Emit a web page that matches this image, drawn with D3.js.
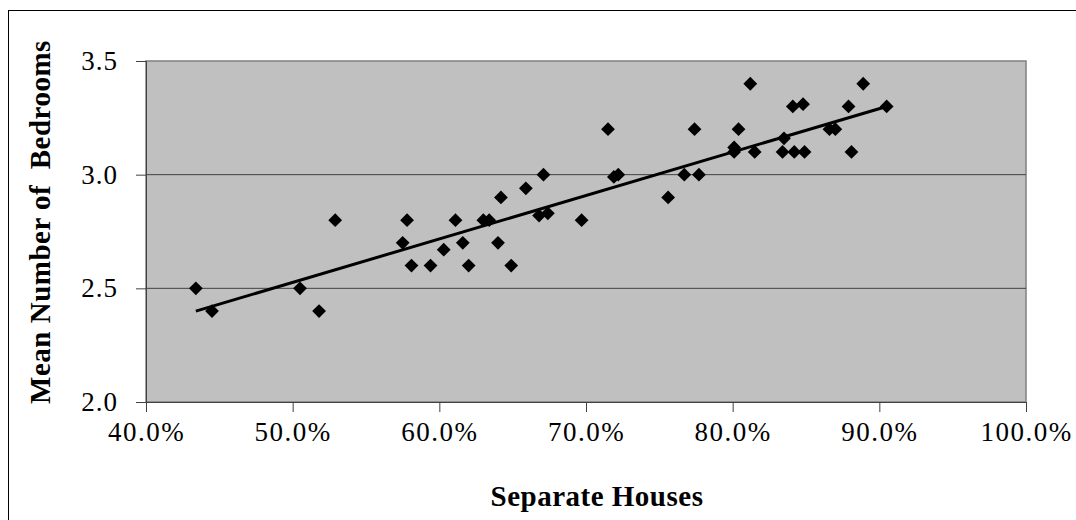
<!DOCTYPE html>
<html><head><meta charset="utf-8">
<script src="https://cdn.jsdelivr.net/npm/d3@7"></script>
<style>body{margin:0;background:#fff}svg{display:block}</style>
</head><body>
<script>
const xValues = [43.4,44.5,50.5,51.8,52.9,57.5,57.8,58.1,59.4,60.3,61.1,61.6,62.0,63.0,63.4,64.0,64.2,64.9,65.9,66.8,67.1,67.4,69.7,71.5,71.9,72.2,75.6,76.7,77.4,77.7,80.1,80.1,80.4,81.2,81.5,83.4,83.5,84.1,84.2,84.8,84.9,86.6,87.0,87.9,88.1,88.9,90.5];
const yValues = [2.5,2.4,2.5,2.4,2.8,2.7,2.8,2.6,2.6,2.67,2.8,2.7,2.6,2.8,2.8,2.7,2.9,2.6,2.94,2.82,3.0,2.83,2.8,3.2,2.99,3.0,2.9,3.0,3.2,3.0,3.12,3.1,3.2,3.4,3.1,3.1,3.16,3.3,3.1,3.31,3.1,3.2,3.2,3.3,3.1,3.4,3.3];
const trendX = [43.4, 90.5];
const trendY = [2.40, 3.30];
const xTicks = [40,50,60,70,80,90,100];
const yTicks = [2.0,2.5,3.0,3.5];
const xTitle = "Separate Houses";
const yTitle = "Mean Number of  Bedrooms";

const W = 1076, H = 520;
const svg = d3.select("body").append("svg").attr("width", W).attr("height", H);
const L = 146, R = 1026, T = 61, B = 402;
const x = d3.scaleLinear().domain([40,100]).range([L,R]);
const y = d3.scaleLinear().domain([2.0,3.5]).range([B,T]);

// outer border
svg.append("rect").attr("x",8.5).attr("y",10.5).attr("width",1200).attr("height",700)
  .attr("fill","none").attr("stroke","#000").attr("stroke-width",1);

// plot area
svg.append("rect").attr("x",L).attr("y",T).attr("width",R-L).attr("height",B-T)
  .attr("fill","#c0c0c0").attr("stroke","#808080").attr("stroke-width",1.5);

// gridlines
svg.append("g").selectAll("line").data(yTicks.filter(d=>d>2.0 && d<3.5)).join("line")
  .attr("x1",L).attr("x2",R).attr("y1",d=>y(d)).attr("y2",d=>y(d))
  .attr("stroke","#404040").attr("stroke-width",1);

const font = "'Liberation Serif', 'Times New Roman', serif";

// axes
const xAxis = d3.axisBottom(x).tickValues(xTicks).tickSize(10).tickPadding(10)
  .tickFormat(d => d.toFixed(1) + "%");
const gx = svg.append("g").attr("transform",`translate(0,${B})`).call(xAxis);
gx.select(".domain").attr("stroke","#404040");
gx.selectAll(".tick line").attr("stroke","#404040");
gx.selectAll("text").attr("font-family",font).attr("font-size",27).attr("fill","#000")
  .attr("letter-spacing","1.5px");

const yAxis = d3.axisLeft(y).tickValues(yTicks).tickSize(10).tickPadding(18)
  .tickFormat(d3.format(".1f"));
const gy = svg.append("g").attr("transform",`translate(${L},0)`).call(yAxis);
gy.select(".domain").attr("stroke","#404040");
gy.selectAll(".tick line").attr("stroke","#404040");
gy.selectAll("text").attr("font-family",font).attr("font-size",27).attr("fill","#000")
  .attr("letter-spacing","1px");

// trend line
svg.append("line").attr("x1",x(trendX[0])).attr("y1",y(trendY[0]))
  .attr("x2",x(trendX[1])).attr("y2",y(trendY[1]))
  .attr("stroke","#000").attr("stroke-width",3);

// points
svg.append("g").selectAll("path").data(xValues.map((v,i)=>[v,yValues[i]])).join("path")
  .attr("d", d3.symbol().type(d3.symbolSquare).size(95)())
  .attr("transform",d=>`translate(${x(d[0])},${y(d[1])}) rotate(45)`)
  .attr("fill","#000");

// titles
svg.append("text").attr("x",597).attr("y",506).attr("text-anchor","middle")
  .attr("font-family",font).attr("font-weight","bold").attr("font-size",29)
  .attr("letter-spacing","0.5px").text(xTitle);
svg.append("text").attr("transform",`translate(50,${222}) rotate(-90)`)
  .attr("text-anchor","middle").attr("font-family",font).attr("font-weight","bold")
  .attr("font-size",29).attr("letter-spacing","0.5px").style("white-space","pre").text(yTitle);
</script>
</body></html>
